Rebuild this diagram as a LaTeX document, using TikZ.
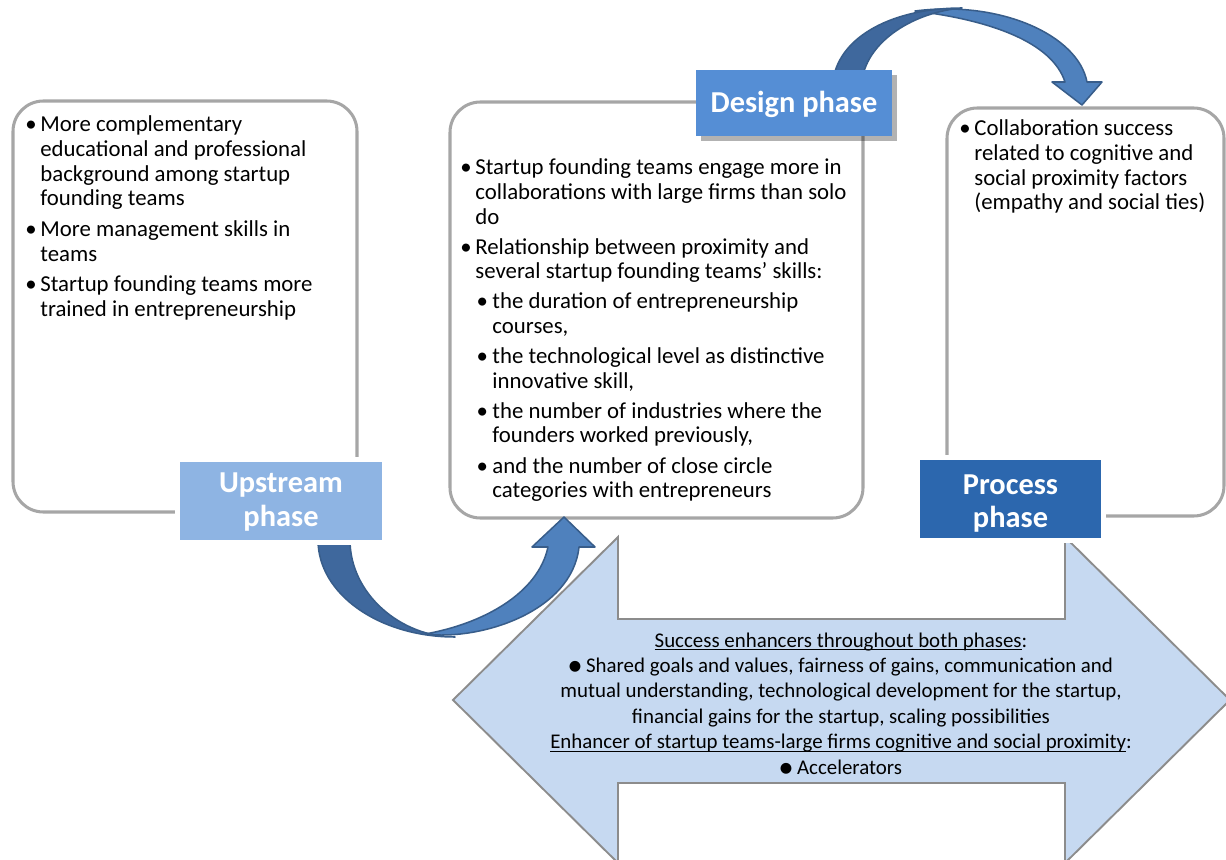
\documentclass[tikz,border=0pt]{standalone}
\usepackage{fontspec}
\setmainfont{Carlito}
\newfontfamily\symfont{DejaVu Sans}
\usetikzlibrary{shadows}
\definecolor{boxgray}{HTML}{A6A6A6}
\definecolor{upblue}{HTML}{8EB4E3}
\definecolor{desblue}{HTML}{558ED5}
\definecolor{procblue}{HTML}{2C67AE}
\definecolor{arrdark}{HTML}{3F689D}
\definecolor{arrlight}{HTML}{4F81BD}
\definecolor{arredge}{HTML}{385D8A}
\definecolor{enhfill}{HTML}{C6D9F1}
\definecolor{enhedge}{HTML}{8C8C8C}
\newcommand{\bul}{\makebox[7.9pt][l]{\textbullet}}
\newcommand{\subbul}{\hspace{0.6pt}\makebox[8.4pt][l]{\textbullet}}
\newcommand{\subind}{\hspace{9pt}}
\newcommand{\dotb}{\raisebox{0.9pt}{\symfont\fontsize{7.5}{7.5}\selectfont ●}}
\newlength\ulw
\newcommand{\uln}[1]{\settowidth{\ulw}{#1}\rlap{\rule[-1.7pt]{\ulw}{0.5pt}}#1}
\newcommand{\twolines}[3][-1pt]{\raisebox{#1}[\height][\depth]{\begin{tabular}{@{}c@{}}#2\\#3\end{tabular}}}

\begin{document}
\begin{tikzpicture}[x=0.5263pt,y=-0.5263pt,
  phasebox/.style={draw=boxgray,line width=1.6pt,rounded corners=16pt},
  phaselabel/.style={text=white,font=\fontsize{16}{17.4}\selectfont\bfseries,align=center,inner sep=0pt},
  halo/.style={preaction={draw=white,line width=5pt}},
  bullets/.style={anchor=base west,inner sep=0pt,font=\fontsize{12}{12.9}\selectfont},
  bandback/.style={fill=arrdark,draw=arredge,line width=0.8pt,line join=round},
  bandfront/.style={fill=arrlight,draw=arredge,line width=0.8pt,line join=round}]
 \useasboundingbox (0,0) rectangle (1226,860);
 % double arrow at the bottom
 \draw[fill=enhfill,draw=enhedge,line width=1pt] (453,700) -- (618,537) -- (618,619) -- (1065,619) -- (1065,537)
   -- (1230,700) -- (1065,863) -- (1065,783) -- (618,783) -- (618,863) -- cycle;
 \node[align=center,font=\fontsize{11}{13.4}\selectfont] (enhancers) at (841,703.5) {\uln{Success enhancers throughout both phases}:\\
   \dotb\ Shared goals and values, fairness of gains, communication and\\
   mutual understanding, technological development for the startup,\\
   financial gains for the startup, scaling possibilities\\
   \uln{Enhancer of startup teams-large firms cognitive and social proximity}:\\
   \dotb\ Accelerators};
 % the three boxes
 \draw[phasebox] (13,101) rectangle (357,512);
 \draw[phasebox] (450,102) rectangle (863,518);
 \draw[phasebox] (947,108) rectangle (1224,516);
 \node[bullets] (uptext) at (25,132) {\begin{tabular}[t]{@{}l@{}l@{}}
   \bul & More complementary\\
   & educational and professional\\
   & background among startup\\
   & founding teams\\[3.4pt]
   \bul & More management skills in\\
   & teams\\[3.4pt]
   \bul & Startup founding teams more\\
   & trained in entrepreneurship
 \end{tabular}};
 \node[bullets] (destext) at (460,175) {\begin{tabular}[t]{@{}l@{}l@{}}
   \bul & Startup founding teams engage more in\\
   & collaborations with large firms than solo\\
   & do\\[3pt]
   \bul & Relationship between proximity and\\
   & several startup founding teams' skills:\\[3pt]
   & \subbul the duration of entrepreneurship\\
   & \subind courses,\\[3pt]
   & \subbul the technological level as distinctive\\
   & \subind innovative skill,\\[3pt]
   & \subbul the number of industries where the\\
   & \subind founders worked previously,\\[3pt]
   & \subbul and the number of close circle\\
   & \subind categories with entrepreneurs
 \end{tabular}};
 \node[bullets] (proctext) at (959,136) {\begin{tabular}[t]{@{}l@{}l@{}}
   \bul & Collaboration success\\
   & related to cognitive and\\
   & social proximity factors\\
   & (empathy and social ties)
 \end{tabular}};
 % curved arrows
 \draw[bandfront] (425,634) .. controls (480,641) and (572,612) .. (579,547) -- (595,547) -- (564,517) -- (532,547)
   -- (548,547) .. controls (538,594) and (482,624) .. (425,634) -- cycle;
 \draw[bandback] (318,540) .. controls (318,594) and (379,637) .. (455,637) .. controls (401,637) and (350,594) .. (350,540) -- cycle;
 \draw[bandfront] (915,11) .. controls (1000,0) and (1078,35) .. (1087,82) -- (1102,82) -- (1082,105) -- (1052,82)
   -- (1065,82) .. controls (1052,42) and (990,20) .. (915,11) -- cycle;
 \draw[bandback] (833,80) .. controls (840,35) and (895,8) .. (962,8) .. controls (915,12) and (868,40) .. (862,80) -- cycle;
 % phase labels
 \node[phaselabel,fill=upblue,halo,minimum width=106.3pt,minimum height=41pt] (upstream) at (281,501) {\twolines{Upstream}{phase}};
 \node[phaselabel,fill=desblue,minimum width=103.2pt,minimum height=34.7pt,text height=13pt,
   drop shadow={shadow xshift=2.5pt,shadow yshift=-2.5pt,fill=black,opacity=0.3}] (design) at (794,103) {Design phase};
 \node[phaselabel,fill=procblue,halo,minimum width=95.3pt,minimum height=41pt] (process) at (1010.5,499) {\twolines[-2.7pt]{Process}{phase}};
\end{tikzpicture}
\end{document}
